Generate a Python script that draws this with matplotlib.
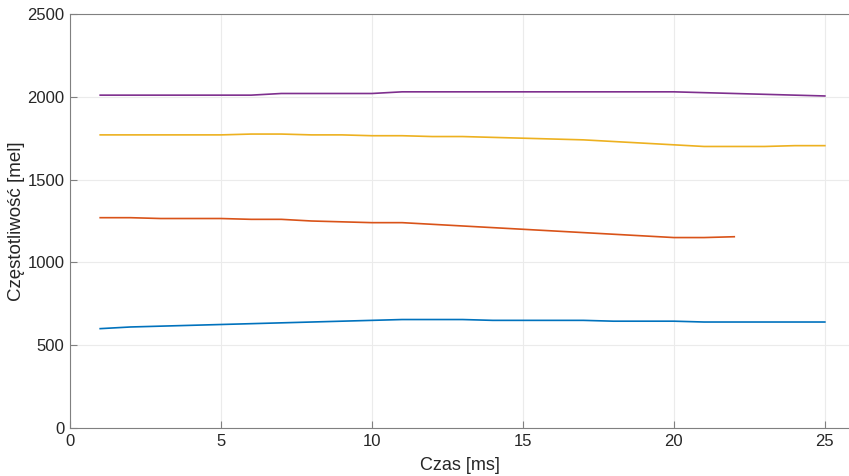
import matplotlib
matplotlib.use("Agg")
import matplotlib.pyplot as plt

plt.rcParams['font.family'] = ['Liberation Sans', 'DejaVu Sans']

# Time axis (ms)
t_full = list(range(1, 26))
t_f2 = list(range(1, 23))

# Formant trajectories in mel
f1 = [600, 610, 615, 620, 625, 630, 635, 640, 645, 650, 655, 655, 655, 650, 650,
      650, 650, 645, 645, 645, 640, 640, 640, 640, 640]
f2 = [1270, 1270, 1265, 1265, 1265, 1260, 1260, 1250, 1245, 1240, 1240, 1230, 1220,
      1210, 1200, 1190, 1180, 1170, 1160, 1150, 1150, 1155]
f3 = [1770, 1770, 1770, 1770, 1770, 1775, 1775, 1770, 1770, 1765, 1765, 1760, 1760,
      1755, 1750, 1745, 1740, 1730, 1720, 1710, 1700, 1700, 1700, 1705, 1705]
f4 = [2010, 2010, 2010, 2010, 2010, 2010, 2020, 2020, 2020, 2020, 2030, 2030, 2030,
      2030, 2030, 2030, 2030, 2030, 2030, 2030, 2025, 2020, 2015, 2010, 2005]

xticks = [0, 5, 10, 15, 20, 25]
yticks = [0, 500, 1000, 1500, 2000, 2500]

colors = ['#0072BD', '#D95319', '#EDB120', '#7E2F8E']

fig = plt.figure(figsize=(8.49, 4.76), dpi=100)
ax = fig.add_axes([70 / 849, 1 - 428 / 476, 1 - 70 / 849, (428 - 14) / 476])

ax.plot(t_full, f1, color=colors[0], lw=1.2)
ax.plot(t_f2, f2, color=colors[1], lw=1.2)
ax.plot(t_full, f3, color=colors[2], lw=1.2)
ax.plot(t_full, f4, color=colors[3], lw=1.2)

ax.set_xlim(0, 25.8)
ax.set_ylim(0, 2500)
ax.set_xticks(xticks)
ax.set_yticks(yticks)
ax.grid(True, color='#ebebeb', lw=0.8)
ax.set_axisbelow(True)

ax.spines['right'].set_visible(False)
for s in ['left', 'bottom', 'top']:
    ax.spines[s].set_color('#808080')
    ax.spines[s].set_linewidth(0.8)
ax.tick_params(direction='in', length=5, width=0.8, color='#808080',
               labelsize=12, labelcolor='#262626', pad=4)

ax.set_xlabel('Czas [ms]', fontsize=13, color='#262626', labelpad=6)
ax.set_ylabel('Częstotliwość [mel]', fontsize=13.5, color='#262626', labelpad=2)

fig.savefig('out.png', dpi=100)
